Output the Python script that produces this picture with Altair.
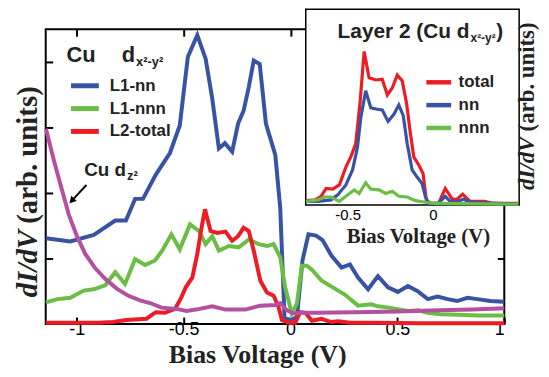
import altair as alt
import pandas as pd

# ---------------- main panel data (Bias Voltage in V, dI/dV arb. units) -------------
nn_x = [-1.144, -1.03, -0.92, -0.82, -0.77, -0.727, -0.69, -0.63, -0.564, -0.518, -0.48, -0.436,
        -0.397, -0.366, -0.335, -0.307, -0.273, -0.245, -0.219, -0.195, -0.172, -0.144, -0.115,
        -0.071, -0.048, -0.028, -0.001, 0.03, 0.056, 0.084, 0.12, 0.15, 0.192, 0.239, 0.278, 0.316,
        0.363, 0.409, 0.456, 0.502, 0.549, 0.595, 0.642, 0.688, 0.735, 0.78, 0.828, 0.874, 0.935, 1.0]
nn_y = [1.31, 1.26, 1.36, 1.58, 1.58, 1.91, 1.91, 2.28, 2.61, 3.03, 4.08, 4.41,
        4.05, 3.44, 2.68, 2.76, 2.63, 3.06, 3.26, 3.62, 4.02, 3.97, 3.06,
        2.58, 1.77, 0.10, 0.06, 0.10, 0.97, 1.37, 1.35, 1.28, 1.04, 0.86, 0.91, 0.71,
        0.53, 0.73, 0.56, 0.49, 0.58, 0.50, 0.38, 0.42, 0.38, 0.35, 0.40, 0.38, 0.35, 0.34]

nnn_x = [-1.144, -1.09, -1.03, -0.967, -0.921, -0.867, -0.82, -0.774, -0.727, -0.68, -0.634, -0.60,
         -0.557, -0.518, -0.47, -0.428, -0.397, -0.366, -0.335, -0.288, -0.242, -0.195, -0.149,
         -0.11, -0.079, -0.048, -0.025, 0.006, 0.03, 0.053, 0.076, 0.10, 0.146, 0.192, 0.254,
         0.316, 0.378, 0.41, 0.46, 0.51, 0.55, 0.60, 0.64, 0.70, 0.78, 0.88, 1.0]
nnn_y = [0.33, 0.38, 0.40, 0.51, 0.53, 0.59, 0.79, 0.61, 0.99, 0.90, 0.97, 1.12,
         1.37, 1.14, 1.52, 1.42, 1.22, 1.34, 1.12, 1.19, 1.17, 1.29, 1.22,
         1.19, 1.22, 1.02, 0.56, 0.16, 0.31, 0.89, 0.89, 0.83, 0.66, 0.57, 0.45,
         0.28, 0.30, 0.27, 0.25, 0.22, 0.20, 0.21, 0.17, 0.15, 0.14, 0.13, 0.13]

l2_x = [-1.144, -0.9, -0.83, -0.767, -0.674, -0.63, -0.587, -0.54, -0.51, -0.49, -0.459, -0.436,
        -0.416, -0.40, -0.374, -0.343, -0.304, -0.273, -0.245, -0.219, -0.195, -0.172, -0.141,
        -0.11, -0.079, -0.056, -0.04, -0.009, 0.022, 0.045, 0.07, 0.10, 0.145, 0.19, 0.223, 0.28,
        0.4, 0.6, 0.8, 1.0]
l2_y = [0.02, 0.02, 0.03, 0.06, 0.08, 0.18, 0.17, 0.23, 0.41, 0.56, 0.71, 1.07,
        1.47, 1.75, 1.42, 1.39, 1.41, 1.27, 1.34, 1.47, 1.42, 1.12, 0.66,
        0.48, 0.43, 0.26, 0.06, 0.02, 0.02, 0.18, 0.17, 0.05, 0.08, 0.03, 0.04, 0.02,
        0.02, 0.01, 0.01, 0.01]

dz2_x = [-1.144, -1.107, -1.076, -1.037, -0.999, -0.96, -0.913, -0.867, -0.813, -0.758, -0.704,
         -0.657, -0.603, -0.533, -0.487, -0.443, -0.366, -0.304, -0.211, -0.141, -0.071, -0.048,
         -0.017, 0.014, 0.06, 0.12, 0.3, 0.5, 0.7, 0.85, 1.0]
dz2_y = [2.98, 2.50, 2.13, 1.67, 1.34, 1.07, 0.85, 0.69, 0.54, 0.43, 0.36,
         0.32, 0.25, 0.23, 0.20, 0.22, 0.27, 0.22, 0.22, 0.28, 0.29, 0.32,
         0.21, 0.16, 0.17, 0.17, 0.18, 0.19, 0.21, 0.22, 0.24]

main_series = ["L1-nn", "L1-nnn", "L2-total"]

# ---------------- inset data (Layer 2) ----------------
tot_x = [-0.744, -0.69, -0.655, -0.626, -0.587, -0.548, -0.51, -0.48, -0.452, -0.426, -0.403,
         -0.374, -0.335, -0.297, -0.267, -0.238, -0.209, -0.18, -0.155, -0.132, -0.112, -0.083,
         -0.058, -0.039, -0.016, 0.033, 0.072, 0.11, 0.136, 0.174, 0.217, 0.304, 0.35, 0.5]
tot_y = [0.06, 0.07, 0.12, 0.23, 0.22, 0.28, 0.53, 0.68, 0.86, 1.46, 2.15,
         1.78, 1.75, 1.76, 1.54, 1.64, 1.82, 1.74, 1.43, 1.00, 0.67, 0.56,
         0.44, 0.07, 0.02, 0.02, 0.23, 0.09, 0.07, 0.15, 0.05, 0.05, 0.02, 0.02]

in_nn_x = [-0.744, -0.674, -0.597, -0.558, -0.51, -0.471, -0.442, -0.422, -0.394, -0.364, -0.326,
           -0.297, -0.263, -0.229, -0.2, -0.174, -0.151, -0.122, -0.093, -0.064, -0.045, -0.025,
           0.03, 0.072, 0.1, 0.136, 0.178, 0.217, 0.3, 0.5]
in_nn_y = [0.05, 0.05, 0.07, 0.14, 0.28, 0.49, 0.81, 1.23, 1.60, 1.36, 1.34,
           1.33, 1.17, 1.27, 1.40, 1.25, 0.86, 0.49, 0.39, 0.30, 0.12, 0.02,
           0.02, 0.12, 0.05, 0.04, 0.08, 0.04, 0.03, 0.01]

in_nnn_x = [-0.744, -0.674, -0.636, -0.597, -0.548, -0.51, -0.461, -0.432, -0.394, -0.364, -0.316,
            -0.277, -0.238, -0.2, -0.151, -0.103, -0.054, 0.0, 0.5]
in_nnn_y = [0.05, 0.07, 0.11, 0.11, 0.05, 0.12, 0.21, 0.16, 0.31, 0.22, 0.21,
            0.16, 0.19, 0.12, 0.11, 0.06, 0.04, 0.02, 0.01]

inset_series = ["total", "nn", "nnn"]

BLUE, GREEN, RED, PURPLE = "#3953a4", "#6abd45", "#ed1c24", "#b4509f"
SANS, SERIF = "Liberation Sans", "Liberation Serif"
W, H = 462, 297

main_df = pd.concat([
    pd.DataFrame({"V": nn_x, "G": nn_y, "s": "L1-nn"}),
    pd.DataFrame({"V": nnn_x, "G": nnn_y, "s": "L1-nnn"}),
    pd.DataFrame({"V": l2_x, "G": l2_y, "s": "L2-total"}),
], ignore_index=True)
dz2_df = pd.DataFrame({"V": dz2_x, "G": dz2_y})
inset_df = pd.concat([
    pd.DataFrame({"V": tot_x, "G": tot_y, "s": "total"}),
    pd.DataFrame({"V": in_nn_x, "G": in_nn_y, "s": "nn"}),
    pd.DataFrame({"V": in_nnn_x, "G": in_nnn_y, "s": "nnn"}),
], ignore_index=True)

xs_main = alt.Scale(domain=[-1.145, 1.0], nice=False, zero=False)
ys_main = alt.Scale(domain=[0, 4.5], nice=False, zero=False)
xs_in = alt.Scale(domain=[-0.745, 0.505], range=[262, 477], nice=False, zero=False)
ys_in = alt.Scale(domain=[0, 2.74], range=[177, -20], nice=False, zero=False)

LBL = "replace(format(datum.value, '~g'), '\u2212', '-')"
tin = {"expr": "-7"}
tin_s = {"expr": "-5"}

main_lines = alt.Chart(main_df).mark_line(strokeWidth=4).encode(
    x=alt.X("V:Q", scale=xs_main, axis=alt.Axis(
        orient="bottom", values=[-1, -0.5, 0, 0.5, 1], labelExpr=LBL, tickSize=tin,
        tickWidth=2, tickColor="black", labelFont=SANS, labelFontSize=18, labelColor="black",
        labelPadding=4, title="Bias Voltage (V)", titleFont=SERIF, titleFontSize=26,
        titleFontWeight="bold", titleColor="#222", titleX=213, titleY=39,
        titleBaseline="alphabetic", titleAlign="center", domain=False, grid=False)),
    y=alt.Y("G:Q", scale=ys_main, axis=alt.Axis(
        orient="left", values=[1, 2, 3, 4], labels=False, tickSize=tin, tickWidth=2,
        tickColor="black", title=None, domain=False, grid=False)),
    color=alt.Color("s:N", scale=alt.Scale(domain=main_series, range=[BLUE, GREEN, RED]),
                    legend=alt.Legend(orient="none", legendX=26.5, legendY=44, title=None,
                                      symbolType="M-1.333,0H1.333", symbolStrokeWidth=5,
                                      symbolSize=441, labelFont=SANS, labelFontSize=17,
                                      labelFontWeight="bold", labelColor="#222", labelOffset=12,
                                      rowPadding=0, padding=0)),
)

dz2_line = alt.Chart(dz2_df).mark_line(strokeWidth=4, color=PURPLE).encode(
    x=alt.X("V:Q", scale=xs_main, axis=alt.Axis(
        orient="top", values=[-1, -0.5, 0, 0.5, 1], labels=False, tickSize=tin, tickWidth=2,
        tickColor="black", title=None, domain=False, grid=False)),
    y=alt.Y("G:Q", scale=ys_main, axis=alt.Axis(
        orient="right", values=[1, 2, 3, 4], labels=False, tickSize=tin, tickWidth=2,
        tickColor="black", title=None, domain=False, grid=False)),
)

one = pd.DataFrame({"k": [0]})


def txt(text, x, y, size, font=SANS, weight="bold", align="left", angle=0, style="normal"):
    return alt.Chart(one).mark_text(text=text, font=font, fontSize=size, fontWeight=weight,
                                    fontStyle=style, align=align, baseline="alphabetic",
                                    angle=angle, color="#222").encode(
        x=alt.value(x), y=alt.value(y))


main_texts = [
    txt("Cu", 21, 33, 22),
    txt("d", 90, 33, 22, align="right"),
    txt("x\u00b2-y\u00b2", 91, 37, 13),
    txt("Cu d", 81, 148, 19, align="right"),
    txt("z\u00b2", 82, 152, 13),
    txt("dI/dV", -9, 270, 29, font=SERIF, angle=270, style="italic"),
    txt("(arb. units)", -9, 196, 29, font=SERIF, angle=270),
]

arrow = alt.Chart(one).mark_rule(strokeWidth=2, color="black").encode(
    x=alt.value(41), y=alt.value(157), x2=alt.value(28), y2=alt.value(171))
arrow_head = alt.Chart(one).mark_point(shape="triangle", filled=True, size=60, angle=223,
                                       color="black", opacity=1).encode(
    x=alt.value(27), y=alt.value(172))

main = alt.layer(main_lines, dz2_line, arrow, arrow_head, *main_texts).resolve_axis(
    x="independent", y="independent")

frame_df = pd.DataFrame({"x0": [-0.745], "x1": [0.505], "y0": [0.0], "y1": [2.74]})
inset_bg = alt.Chart(frame_df).mark_rect(fill="white", stroke="black", strokeWidth=1.5).encode(
    x=alt.X("x0:Q", scale=xs_in, axis=alt.Axis(
        orient="bottom", offset=-120, values=[-0.5, 0], labelExpr=LBL, tickSize=tin_s,
        tickWidth=1.5, tickColor="black", labelFont=SANS, labelFontSize=15, labelColor="black",
        labelPadding=8, title="Bias Voltage (V)", titleFont=SERIF, titleFontSize=21,
        titleFontWeight="bold", titleColor="#222", titleX=375, titleY=38,
        titleBaseline="alphabetic", titleAlign="center", domain=False, grid=False)),
    x2="x1:Q",
    y=alt.Y("y0:Q", scale=ys_in, axis=alt.Axis(
        orient="left", offset=-262, values=[1, 2], labels=False, tickSize=tin_s, tickWidth=1.5,
        tickColor="black", title=None, domain=False, grid=False)),
    y2="y1:Q",
)

inset_lines = alt.Chart(inset_df).mark_line(strokeWidth=3.2).encode(
    x=alt.X("V:Q", scale=xs_in, axis=None),
    y=alt.Y("G:Q", scale=ys_in, axis=alt.Axis(
        orient="right", offset=15, values=[1, 2], labels=False, tickSize=tin_s, tickWidth=1.5,
        tickColor="black", title=None, domain=False, grid=False)),
    color=alt.Color("s:N", scale=alt.Scale(domain=inset_series, range=[RED, BLUE, GREEN]),
                    legend=alt.Legend(orient="none", legendX=382.5, legendY=40, title=None,
                                      symbolType="M-1.136,0H1.136", symbolStrokeWidth=4.5,
                                      symbolSize=484, labelFont=SANS, labelFontSize=17,
                                      labelFontWeight="bold", labelColor="#222", labelOffset=6.5,
                                      rowPadding=0, padding=0)),
)

inset_texts = [
    txt("Layer 2 (Cu d", 427, 9, 21, align="right"),
    txt("x\u00b2-y\u00b2", 428, 13, 12),
    txt(")", 454, 9, 21),
    txt("dI/dV", 492, 162, 23, font=SERIF, angle=270, style="italic"),
    txt("(arb. units)", 492, 103, 23, font=SERIF, angle=270),
]

inset = alt.layer(inset_bg, inset_lines, *inset_texts).resolve_scale(
    x="shared", y="shared").resolve_axis(x="independent", y="independent")

chart = alt.layer(main, inset).resolve_scale(
    x="independent", y="independent", color="independent"
).properties(
    width=W, height=H,
    autosize=alt.AutoSizeParams(type="none"),
    padding={"left": 38, "top": 20, "right": 37, "bottom": 45},
).configure_view(stroke="black", strokeWidth=2).configure_axis(grid=False)

chart.save("out.html", embed_options={"renderer": "svg", "actions": False})
